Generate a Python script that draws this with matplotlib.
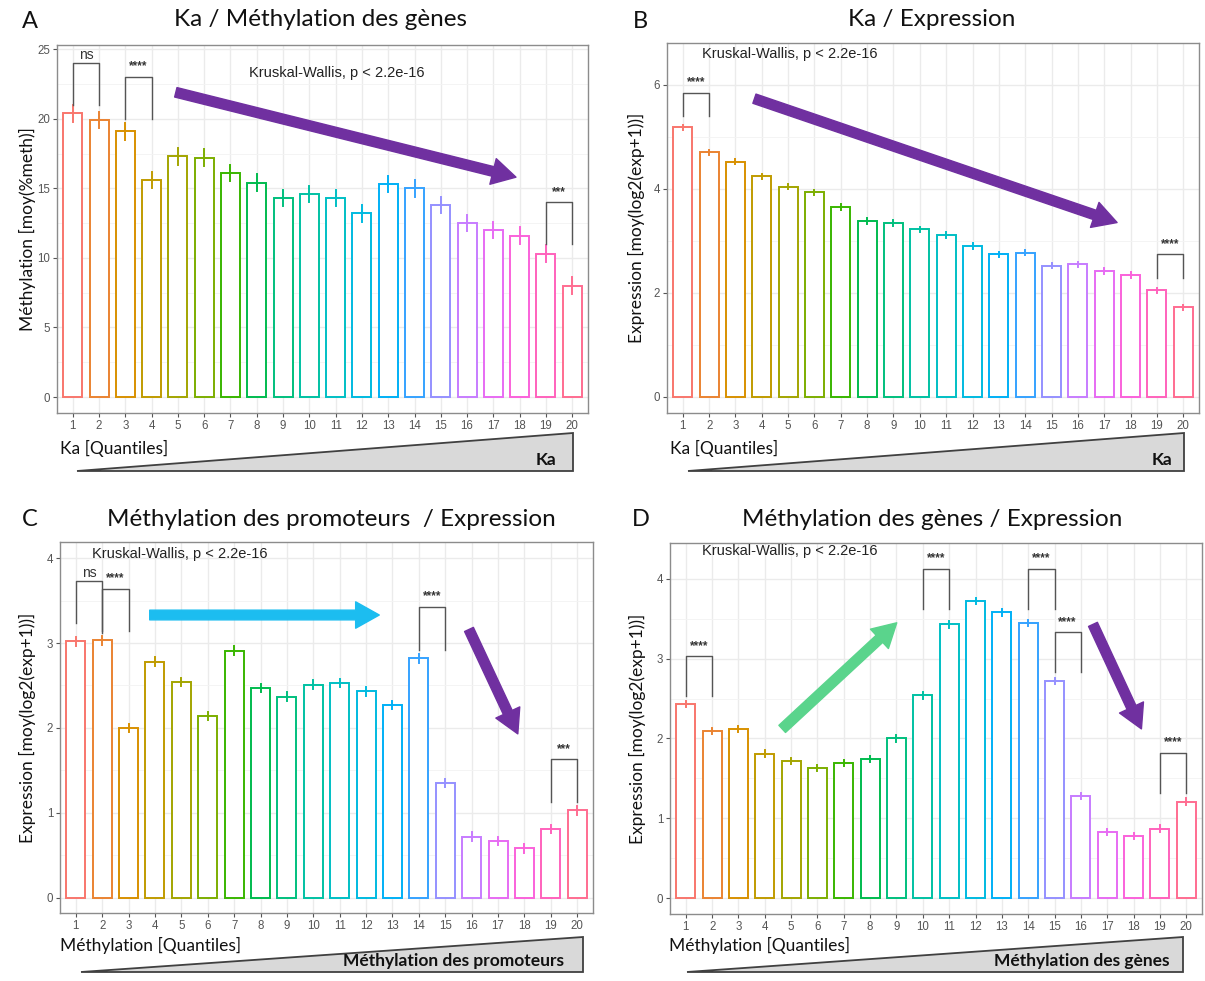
import numpy as np
import matplotlib
matplotlib.use("Agg")
import matplotlib.pyplot as plt
from matplotlib.patches import Polygon

# ::: Data :::
quantiles = np.arange(1, 21)

ka_meth = [20.4, 19.9, 19.1, 15.6, 17.3, 17.2, 16.1, 15.4, 14.3, 14.6,
           14.3, 13.2, 15.3, 15.0, 13.8, 12.5, 12.0, 11.6, 10.3, 8.0]
ka_meth_err = [0.6] * 20

ka_expr = [5.18, 4.70, 4.52, 4.24, 4.04, 3.93, 3.65, 3.38, 3.34, 3.22,
           3.11, 2.90, 2.74, 2.77, 2.52, 2.55, 2.42, 2.34, 2.05, 1.72]
ka_expr_err = [0.05] * 20

prom_expr = [3.02, 3.03, 2.00, 2.78, 2.54, 2.14, 2.91, 2.47, 2.37, 2.51,
             2.53, 2.43, 2.27, 2.82, 1.35, 0.72, 0.67, 0.58, 0.81, 1.03]
prom_expr_err = [0.05] * 20

gene_expr = [2.43, 2.09, 2.12, 1.81, 1.72, 1.63, 1.69, 1.74, 2.00, 2.54,
             3.43, 3.72, 3.58, 3.45, 2.72, 1.28, 0.83, 0.78, 0.87, 1.21]
gene_expr_err = [0.04] * 20

# ggplot hue palette, 20 levels
hue20 = ["#F8766D", "#EA8331", "#D89000", "#C09B00", "#A3A500", "#7CAE00", "#39B600",
         "#00BB4E", "#00BF7D", "#00C1A3", "#00BFC4", "#00BAE0", "#00B0F6", "#35A2FF",
         "#9590FF", "#C77CFF", "#E76BF3", "#FA62DB", "#FF62BC", "#FF6C91"]

# significance brackets: (x1, x2, top, leg1 bottom, leg2 bottom, label)
brackets_a = [(1, 2, 24.0, 21.0, 21.0, "ns"), (3, 4, 23.0, 20.0, 20.0, "****"),
              (19, 20, 14.0, 11.0, 11.0, "***")]
brackets_b = [(1, 2, 5.84, 5.39, 5.39, "****"), (19, 20, 2.74, 2.29, 2.29, "****")]
brackets_c = [(1, 2, 3.73, 3.24, 3.12, "ns"), (2, 3, 3.64, 3.14, 3.14, "****"),
              (14, 15, 3.43, 2.92, 2.92, "****"), (19, 20, 1.63, 1.13, 1.13, "***")]
brackets_d = [(1, 2, 3.03, 2.53, 2.53, "****"), (10, 11, 4.13, 3.62, 3.62, "****"),
              (14, 15, 4.13, 3.62, 3.62, "****"), (15, 16, 3.33, 2.83, 2.83, "****"),
              (19, 20, 1.82, 1.32, 1.32, "****")]

# arrows: (x start, y start, x end, y end, colour)
PURPLE = "#7030A0"
arrows_a = [(4.92, 21.9, 17.86, 15.8, PURPLE)]
arrows_b = [(3.72, 5.73, 17.49, 3.35, PURPLE)]
arrows_c = [(3.8, 3.33, 12.5, 3.33, "#1CBDF0"), (15.9, 3.16, 17.75, 1.93, PURPLE)]
arrows_d = [(4.66, 2.12, 9.01, 3.45, "#5AD48C"), (16.46, 3.43, 18.3, 2.12, PURPLE)]

W, H = 1205, 981
fig = plt.figure(figsize=(W / 100, H / 100), dpi=100)
fig.patch.set_facecolor("white")

TXT = "Lato"
GG = "Liberation Sans"


def pix_axes(left, top, right, bottom):
    return fig.add_axes([left / W, 1 - bottom / H, (right - left) / W, (bottom - top) / H])


def panel(box, values, errs, ylim, yticks, minor, ylabel, ylab_x, brackets, arrows, kw_xy):
    ax = pix_axes(*box)
    ax.set_xlim(0.4, 20.6)
    ax.set_ylim(*ylim)
    ax.set_yticks(yticks)
    ax.set_yticks(minor, minor=True)
    ax.set_xticks(quantiles)
    ax.set_xticks([], minor=True)
    ax.grid(True, which="major", color="#EBEBEB", lw=1.0, zorder=0)
    ax.grid(True, which="minor", axis="y", color="#F3F3F3", lw=0.6, zorder=0)
    ax.set_axisbelow(True)
    for s in ax.spines.values():
        s.set_color("#8C8C8C")
        s.set_linewidth(1.0)
    ax.tick_params(axis="both", which="major", length=3, color="#555555", labelsize=8.3,
                   labelcolor="#555555", pad=2)
    ax.tick_params(axis="y", which="minor", length=0)
    for lab in ax.get_xticklabels() + ax.get_yticklabels():
        lab.set_fontfamily(GG)

    ax.bar(quantiles, values, width=0.72, facecolor="white", edgecolor=hue20, linewidth=1.4, zorder=2)
    for xi, v, e, c in zip(quantiles, values, errs, hue20):
        ax.plot([xi, xi], [v - e, v + e], color=c, lw=1.4, zorder=3)

    for x1, x2, top, b1, b2, lab in brackets:
        ax.plot([x1, x1, x2, x2], [b1, top, top, b2], color="#555555", lw=1.0, zorder=4)
        span = ylim[1] - ylim[0]
        if lab == "ns":
            ax.text((x1 + x2) / 2, top + span * 0.002, lab, ha="center", va="bottom",
                    fontsize=10, family=GG, color="#333333")
        else:
            ax.text((x1 + x2) / 2, top + span * 0.012, lab, ha="center", va="bottom",
                    fontsize=8.5, family=GG, color="#333333", fontweight="bold")

    for x0, y0, x1, y1, col in arrows:
        ax.annotate("", xy=(x1, y1), xytext=(x0, y0),
                    arrowprops=dict(arrowstyle="simple,head_length=0.85,head_width=0.95,tail_width=0.35",
                                    color=col, shrinkA=0, shrinkB=0, mutation_scale=20),
                    zorder=5)

    ax.text(kw_xy[0], kw_xy[1], "Kruskal-Wallis, p < 2.2e-16", ha="center", va="center",
            fontsize=10.5, family=GG, color="#222222", zorder=6)

    yc = (box[1] + box[3]) / 2
    fig.text(ylab_x / W, 1 - yc / H, ylabel, rotation=90, ha="center", va="center",
             fontsize=12.5, family=TXT, color="#111111")
    return ax


ax_a = panel((57, 45, 588, 413), ka_meth, ka_meth_err, (-1.15, 25.3), [0, 5, 10, 15, 20, 25],
             [2.5, 7.5, 12.5, 17.5, 22.5], "Méthylation [moy(%meth)]", 27,
             brackets_a, arrows_a, (11.05, 23.3))
ax_b = panel((667, 43, 1199, 413), ka_expr, ka_expr_err, (-0.31, 6.8), [0, 2, 4, 6],
             [1, 3, 5], "Expression [moy(log2(exp+1))]", 636,
             brackets_b, arrows_b, (5.07, 6.59))
ax_c = panel((60, 542, 593, 913), prom_expr, prom_expr_err, (-0.18, 4.19), [0, 1, 2, 3, 4],
             [0.5, 1.5, 2.5, 3.5], "Expression [moy(log2(exp+1))]", 27,
             brackets_c, arrows_c, (4.95, 4.05))
ax_d = panel((670, 543, 1202, 914), gene_expr, gene_expr_err, (-0.2, 4.45), [0, 1, 2, 3, 4],
             [0.5, 1.5, 2.5, 3.5], "Expression [moy(log2(exp+1))]", 637,
             brackets_d, arrows_d, (4.94, 4.35))

# ::: overlay in pixel coordinates for titles, letters and wedges :::
ov = fig.add_axes([0, 0, 1, 1], zorder=-1)
ov.set_xlim(0, W)
ov.set_ylim(H, 0)
ov.axis("off")
ov.patch.set_visible(False)

letters = ["A", "B", "C", "D"]
letter_xy = [(30, 22), (640, 22), (30, 520), (641, 520)]
titles = ["Ka / Méthylation des gènes", "Ka / Expression",
          "Méthylation des promoteurs  / Expression", "Méthylation des gènes / Expression"]
title_xy = [(321, 20), (932, 20), (331, 519), (932, 519)]
for l, (lx, ly), t, (tx, ty) in zip(letters, letter_xy, titles, title_xy):
    ov.text(lx, ly, l, ha="center", va="center", fontsize=17, family=TXT, color="#111111")
    ov.text(tx, ty, t, ha="center", va="center", fontsize=17.5, family=TXT, color="#111111")

xlabels = ["Ka [Quantiles]", "Ka [Quantiles]", "Méthylation [Quantiles]", "Méthylation [Quantiles]"]
xlabel_xy = [(60, 448), (670, 448), (60, 945), (669, 945)]
wedges = [[(77, 471), (573, 433), (573, 471)], [(688, 471), (1184, 433), (1184, 471)],
          [(81, 972), (583, 937), (583, 972)], [(687, 972), (1183, 937), (1183, 972)]]
wedge_labels = ["Ka", "Ka", "Méthylation des promoteurs", "Méthylation des gènes"]
wedge_label_xy = [(556, 460), (1172, 460), (564, 961), (1170, 961)]
for xl, (xx, xy), wd, wl, (wx, wy) in zip(xlabels, xlabel_xy, wedges, wedge_labels, wedge_label_xy):
    ov.text(xx, xy, xl, ha="left", va="center", fontsize=12.5, family=TXT, color="#111111")
    ov.add_patch(Polygon(wd, closed=True, facecolor="#D9D9D9", edgecolor="#404040", lw=1.3))
    ov.text(wx, wy, wl, ha="right", va="center", fontsize=12.5, family=TXT,
            fontweight="bold", color="#111111")

fig.savefig("out.png", dpi=100)
